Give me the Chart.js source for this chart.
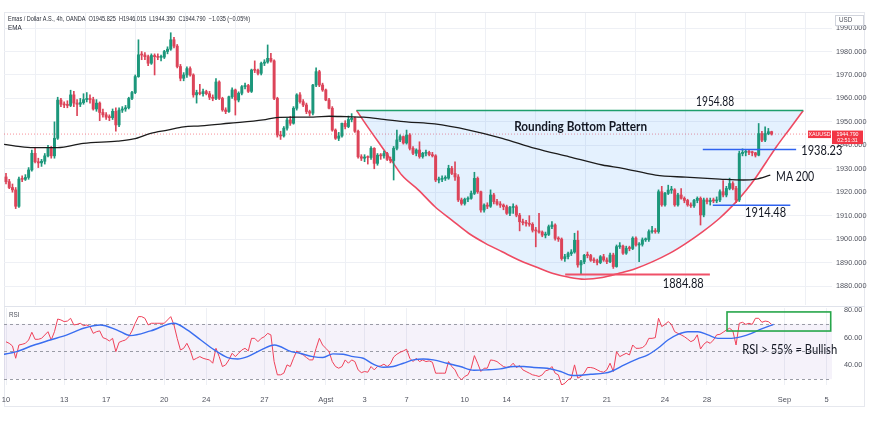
<!DOCTYPE html>
<html><head><meta charset="utf-8">
<script src="https://cdn.jsdelivr.net/npm/chart.js@4.4.0/dist/chart.umd.min.js"></script>
<style>
html,body{margin:0;padding:0;background:#fff;}
#wrap{position:relative;width:870px;height:423px;overflow:hidden;background:#fff;}
canvas{position:absolute;left:0;}
#frame{position:absolute;left:4px;top:12px;width:861px;height:395px;border:1px solid #e6e8ee;box-sizing:border-box;}
#sep{position:absolute;left:4px;top:306px;width:861px;height:1px;background:#e0e3eb;}
</style></head>
<body><div id="wrap">
<div id="frame"></div><div id="sep"></div>
<canvas id="price" width="870" height="307" style="top:0"></canvas>
<canvas id="rsi" width="870" height="106" style="top:306px"></canvas>
</div>
<script>
// ---------------- DATA ----------------
const dateTickIdx = [0,18,31,49,62,80,99,111,124,142,155,173,186,204,217,241,254];
const dateTickLabels = ['10','13','17','20','24','27','Agst','3','7','10','14','17','21','24','28','Sep','5'];
const priceTicks = [1880,1890,1900,1910,1920,1930,1940,1950,1960,1970,1980,1990];
const rsiTicks = [40,60,80];

const opens = [
1926.5,1924.5,1922.0,1921.0,1914.0,1925.6,1925.5,1926.3,1929.5,1936.6,
1933.0,1932.5,1933.2,1935.5,1938.8,1935.5,1943.0,1959.3,1957.5,1957.2,
1957.0,1961.5,1958.0,1957.5,1958.2,1959.5,1960.0,1959.5,1955.5,1958.0,
1954.0,1953.0,1952.0,1951.8,1954.5,1948.7,1955.0,1955.5,1956.0,1960.0,
1962.5,1969.3,1978.6,1978.5,1977.8,1975.0,1978.3,1977.8,1977.5,1977.6,
1980.0,1981.0,1985.0,1982.3,1973.6,1968.6,1970.0,1972.7,1970.0,1961.5,
1962.5,1962.0,1962.9,1962.0,1960.5,1960.0,1967.0,1960.0,1955.1,1954.4,
1960.7,1963.6,1959.3,1962.2,1965.0,1965.5,1963.0,1972.1,1972.0,1970.7,
1975.0,1975.5,1977.1,1976.0,1960.0,1944.4,1944.0,1947.3,1950.8,1949.4,
1955.8,1961.5,1958.6,1957.2,1954.4,1953.7,1965.7,1971.4,1965.7,1963.6,
1959.3,1955.8,1946.5,1943.0,1944.0,1949.4,1948.0,1951.0,1951.5,1946.0,
1935.1,1934.5,1935.0,1934.8,1938.7,1932.3,1935.8,1935.5,1936.5,1934.0,
1933.5,1938.7,1942.3,1943.7,1941.0,1944.4,1938.7,1936.6,1938.0,1935.2,
1936.6,1937.0,1936.0,1935.5,1925.2,1925.5,1925.9,1926.0,1930.2,1928.0,
1926.5,1916.7,1915.2,1917.0,1917.4,1919.5,1925.9,1920.2,1912.4,1914.5,
1914.0,1918.8,1916.0,1915.0,1914.5,1913.8,1911.0,1913.5,1913.8,1910.2,
1907.4,1907.0,1906.7,1906.3,1903.8,1903.5,1903.0,1901.7,1902.0,1905.3,
1906.0,1900.3,1900.0,1891.7,1892.5,1893.8,1894.5,1899.5,1889.0,1890.3,
1893.1,1893.0,1891.0,1890.8,1890.0,1892.5,1891.1,1890.4,1893.2,1888.3,
1896.8,1897.0,1894.0,1896.1,1896.0,1900.4,1897.5,1897.8,1899.7,1899.8,
1903.2,1903.5,1903.2,1920.2,1914.6,1919.5,1920.9,1921.0,1914.6,1918.8,
1917.4,1916.5,1914.6,1914.2,1916.5,1917.4,1910.3,1916.7,1916.0,1916.5,
1916.3,1916.7,1920.2,1918.8,1921.6,1923.7,1921.6,1916.7,1936.5,1937.0,
1937.2,1937.0,1936.8,1935.8,1945.0,1942.2,1945.0,1945.825];

const highs = [
1928.0,1925.5,1923.5,1922.0,1926.5,1927.0,1927.5,1930.5,1938.0,1939.0,
1934.5,1934.0,1936.5,1940.0,1939.5,1950.0,1960.5,1960.0,1958.5,1959.0,
1963.5,1963.0,1959.5,1960.0,1962.0,1962.5,1961.5,1960.5,1959.5,1958.5,
1955.5,1954.0,1953.0,1955.5,1956.0,1956.0,1956.5,1957.0,1960.5,1963.0,
1970.0,1985.0,1980.0,1979.5,1978.5,1979.0,1979.0,1979.0,1978.5,1980.5,
1982.0,1988.0,1986.0,1983.0,1974.5,1971.0,1973.5,1973.5,1970.5,1963.5,
1966.0,1964.0,1963.5,1963.0,1961.5,1968.5,1967.5,1960.5,1956.0,1961.0,
1964.5,1964.0,1962.8,1965.5,1966.5,1966.0,1972.5,1976.0,1972.5,1975.5,
1976.5,1982.8,1979.2,1976.5,1960.5,1946.0,1948.0,1951.5,1952.3,1956.5,
1962.0,1962.5,1959.5,1958.0,1955.0,1966.0,1973.0,1972.0,1966.5,1964.0,
1960.0,1956.5,1947.0,1945.5,1949.5,1950.5,1952.5,1953.5,1952.0,1946.5,
1936.0,1936.0,1935.5,1939.5,1939.0,1936.5,1936.5,1937.5,1937.0,1935.0,
1939.5,1946.5,1944.5,1944.0,1946.5,1945.0,1939.5,1938.5,1941.5,1937.0,
1938.0,1937.5,1937.0,1936.0,1926.5,1927.0,1927.0,1931.5,1931.0,1933.0,
1927.5,1917.5,1917.5,1918.0,1920.5,1928.5,1926.5,1920.5,1915.0,1915.5,
1921.0,1919.5,1917.0,1916.0,1915.0,1914.5,1914.0,1915.0,1914.5,1911.0,
1908.5,1908.0,1910.0,1907.0,1905.0,1911.0,1903.5,1903.0,1906.0,1907.5,
1906.5,1901.0,1900.5,1893.5,1894.5,1895.5,1902.5,1903.5,1891.0,1893.5,
1894.5,1893.5,1892.0,1891.5,1893.0,1893.5,1892.0,1894.0,1894.0,1897.5,
1898.5,1897.5,1897.0,1897.0,1901.0,1901.0,1898.5,1900.5,1900.5,1904.0,
1905.5,1904.5,1921.0,1922.5,1920.0,1923.0,1922.5,1921.5,1919.5,1921.5,
1918.0,1917.0,1915.5,1917.0,1918.0,1918.0,1917.5,1917.5,1917.5,1917.5,
1918.0,1921.0,1925.0,1922.5,1926.0,1924.5,1922.5,1937.5,1938.5,1938.0,
1938.0,1937.5,1937.0,1949.3,1946.0,1947.9,1947.2,1946.015];

const lows = [
1923.5,1921.5,1920.0,1913.0,1913.5,1924.5,1925.0,1925.5,1929.0,1932.5,
1930.5,1931.0,1932.0,1935.0,1934.5,1934.5,1942.5,1956.5,1956.0,1956.0,
1956.5,1956.5,1952.6,1956.5,1957.5,1958.5,1958.0,1955.0,1954.5,1950.5,
1952.0,1951.0,1950.5,1951.0,1946.0,1948.0,1954.0,1954.5,1955.5,1959.5,
1962.0,1969.0,1976.5,1976.5,1974.0,1974.5,1970.0,1976.5,1976.0,1977.0,
1979.0,1980.5,1981.5,1973.0,1967.5,1967.5,1969.0,1969.5,1960.5,1958.0,
1961.5,1961.0,1961.5,1959.5,1959.0,1959.5,1959.5,1954.5,1953.5,1954.0,
1960.0,1952.9,1958.5,1961.5,1964.0,1962.5,1962.5,1971.0,1970.0,1970.0,
1974.0,1975.0,1975.5,1959.5,1943.5,1942.5,1943.5,1946.5,1948.5,1949.0,
1955.0,1958.0,1956.5,1953.5,1952.5,1953.0,1965.0,1965.0,1963.0,1959.0,
1955.5,1946.0,1942.5,1942.0,1943.5,1947.0,1947.5,1950.0,1945.5,1934.5,
1933.5,1933.0,1932.0,1934.0,1930.0,1931.5,1934.0,1934.5,1933.5,1932.5,
1925.2,1938.0,1941.5,1940.5,1940.5,1938.0,1936.0,1935.5,1934.5,1934.5,
1935.5,1935.5,1935.0,1924.5,1924.0,1924.5,1925.0,1925.5,1927.5,1925.0,
1916.0,1914.5,1914.5,1916.0,1917.0,1919.0,1919.5,1911.5,1911.5,1913.0,
1913.5,1915.0,1914.5,1913.5,1912.5,1910.5,1910.0,1911.0,1909.5,1903.5,
1906.0,1905.5,1905.5,1903.0,1896.7,1902.5,1901.0,1900.5,1901.5,1904.5,
1899.5,1899.0,1891.0,1890.5,1891.5,1893.0,1894.0,1888.0,1884.9,1889.5,
1892.0,1890.5,1890.0,1889.0,1889.5,1890.5,1889.5,1890.0,1887.5,1888.0,
1896.0,1893.5,1893.5,1895.0,1895.5,1897.0,1890.4,1897.0,1899.0,1899.0,
1902.5,1902.5,1902.5,1914.0,1914.0,1919.0,1919.5,1914.0,1914.0,1917.0,
1915.5,1914.0,1913.5,1913.5,1915.5,1906.0,1909.5,1915.0,1914.5,1915.5,
1915.5,1916.0,1918.0,1918.0,1921.0,1921.0,1915.5,1916.0,1935.5,1935.5,
1936.0,1935.5,1935.0,1935.5,1941.5,1941.5,1944.5,1944.35];

const closes = [
1924.5,1922.0,1921.0,1914.0,1925.6,1925.5,1926.3,1929.5,1936.6,1933.0,
1932.5,1933.2,1935.5,1938.8,1935.5,1943.0,1959.3,1957.5,1957.2,1957.0,
1961.5,1958.0,1957.5,1958.2,1959.5,1960.0,1959.5,1955.5,1958.0,1954.0,
1953.0,1952.0,1951.8,1954.5,1948.7,1955.0,1955.5,1956.0,1960.0,1962.5,
1969.3,1978.6,1978.5,1977.8,1975.0,1978.3,1977.8,1977.5,1977.6,1980.0,
1981.0,1985.0,1982.3,1973.6,1968.6,1970.0,1972.7,1970.0,1961.5,1962.5,
1962.0,1962.9,1962.0,1960.5,1960.0,1967.0,1960.0,1955.1,1954.4,1960.7,
1963.6,1959.3,1962.2,1965.0,1965.5,1963.0,1972.1,1972.0,1970.7,1975.0,
1975.5,1977.1,1976.0,1960.0,1944.4,1944.0,1947.3,1950.8,1949.4,1955.8,
1961.5,1958.6,1957.2,1954.4,1953.7,1965.7,1971.4,1965.7,1963.6,1959.3,
1955.8,1946.5,1943.0,1944.0,1949.4,1948.0,1951.0,1951.5,1946.0,1935.1,
1934.5,1935.0,1934.8,1938.7,1932.3,1935.8,1935.5,1936.5,1934.0,1933.5,
1938.7,1942.3,1943.7,1941.0,1944.4,1938.7,1936.6,1938.0,1935.2,1936.6,
1937.0,1936.0,1935.5,1925.2,1925.5,1925.9,1926.0,1930.2,1928.0,1926.5,
1916.7,1915.2,1917.0,1917.4,1919.5,1925.9,1920.2,1912.4,1914.5,1914.0,
1918.8,1916.0,1915.0,1914.5,1913.8,1911.0,1913.5,1913.8,1910.2,1907.4,
1907.0,1906.7,1906.3,1903.8,1903.5,1903.0,1901.7,1902.0,1905.3,1906.0,
1900.3,1900.0,1891.7,1892.5,1893.8,1894.5,1899.5,1889.0,1890.3,1893.1,
1893.0,1891.0,1890.8,1890.0,1892.5,1891.1,1890.4,1893.2,1888.3,1896.8,
1897.0,1894.0,1896.1,1896.0,1900.4,1897.5,1897.8,1899.7,1899.8,1903.2,
1903.5,1903.2,1920.2,1914.6,1919.5,1920.9,1921.0,1914.6,1918.8,1917.4,
1916.5,1914.6,1914.2,1916.5,1917.4,1910.3,1916.7,1916.0,1916.5,1916.3,
1916.7,1920.2,1918.8,1921.6,1923.7,1921.6,1916.7,1936.5,1937.0,1937.2,
1937.0,1936.8,1935.8,1945.0,1942.2,1945.0,1945.8,1944.79];

// EMA 200 as [bar index, price]
const ema200 = [[-0.6,1940.4],[4.4,1939.4],[8.4,1939.0],[15.9,1939.0],[23.9,1940.8],[34.5,1941.8],[39.5,1942.7],
[44.8,1945.1],[50,1946.5],[55,1947.9],[60.3,1948.3],[69,1949.4],[79.6,1950.8],[83.6,1951.8],[89.8,1952.0],[95.1,1952.0],
[100.1,1952.4],[105.4,1952.2],[110.7,1952.0],[116.9,1951.1],[124,1950.0],[132.7,1949.1],[143.3,1946.5],[153.6,1943.0],
[163.8,1938.7],[174.4,1935.1],[184.6,1931.6],[190.9,1930.2],[201.1,1927.3],[210.4,1926.4],[221,1925.6],[228.2,1925.2],
[232.2,1925.6],[236.6,1927.3]];

// Rounding bottom curve [bar index, price]
const roundingCurve = [[108.5,1954.88],[112.4,1947],[116.3,1939.4],[120,1932.2],[122.5,1927.3],[127.7,1920.9],[132.8,1913.8],
[138,1908.1],[143.2,1902.5],[148.4,1898.2],[153.6,1894.6],[158.7,1891.1],[163.9,1888.2],[169.1,1885.4],[174.3,1883.7],
[179,1882.9],[184.6,1883.6],[189.8,1885.4],[195,1887.5],[200.2,1890.4],[205.4,1893.9],[210.5,1898.2],[215.7,1903.2],
[220.9,1908.9],[226.1,1916],[229.2,1920.9],[232.3,1926.6],[235.4,1933],[238.5,1939.4],[242.7,1947.2],[246.8,1954.88]];

// Horizontal levels: [value, from bar, to bar]
const levelTop = [1954.88, 108.5, 246.8];
const levelHigh = [1938.23, 215.7, 244.6];
const levelMid = [1914.48, 218.8, 242.8];
const levelLow = [1884.88, 173.1, 217.9];
const lastPrice = 1944.79;

const rsiValues = [
57.0,55.9,54.0,45.1,54.7,55.2,55.9,58.3,63.9,58.8,
58.8,59.5,61.9,64.3,58.3,64.3,73.5,72.8,71.6,72.0,
74.0,69.2,69.6,70.4,68.7,69.2,68.0,63.1,64.3,64.9,
60.0,59.1,57.6,59.5,49.9,56.6,57.6,58.3,60.7,64.9,
70.4,75.2,75.2,74.0,69.2,70.4,70.4,70.4,70.4,70.4,
72.8,75.2,69.2,59.5,51.1,52.3,55.9,51.1,43.9,45.1,
46.3,45.1,44.4,43.9,41.5,52.3,46.3,39.1,40.3,43.9,
48.7,46.3,48.7,51.1,52.3,50.4,59.5,59.5,57.1,59.5,
60.7,63.1,62.0,42.7,33.1,33.1,34.3,40.3,39.1,45.1,
50.4,48.7,47.5,45.6,43.9,43.9,52.3,59.5,54.7,52.3,
49.9,42.7,39.1,37.9,39.1,43.9,41.5,43.9,42.7,36.7,
34.7,35.5,35.0,39.1,36.7,39.1,39.6,40.8,39.1,41.0,
46.0,48.0,49.4,50.4,51.6,45.1,42.7,45.1,42.7,43.9,
42.7,43.2,42.2,34.3,34.3,34.3,34.3,42.7,39.1,36.7,
31.9,29.5,31.9,33.1,37.9,47.0,41.5,35.5,37.9,37.9,
43.9,43.5,42.7,40.8,39.1,38.4,39.1,41.5,38.4,39.8,
36.7,35.5,34.3,33.1,32.6,31.9,33.1,36.0,36.7,39.1,
34.3,33.1,25.8,27.0,29.5,30.7,40.3,30.7,32.0,34.3,
38.4,38.4,37.9,36.7,35.5,35.0,36.7,41.5,35.5,49.9,
46.3,47.5,48.7,47.5,54.7,52.3,52.3,52.8,54.7,59.5,
59.5,60.0,74.0,68.0,69.6,71.6,69.6,64.3,63.1,62.0,
60.7,59.0,57.1,58.3,62.0,51.8,55.2,57.1,55.9,58.3,
62.0,62.4,63.9,65.5,66.8,64.9,54.7,70.4,71.1,69.6,
70.4,69.6,74.0,74.0,71.1,72.0,71.6,69.6];

const rsiMa = [[-1.9,47.5],[3.3,49.9],[8.5,54.5],[13.7,58.3],[18.9,62.0],[24,66.8],[29.2,69.2],[34.4,65.5],[38.5,61.5],
[44.8,64.9],[52,70.4],[56.2,65.5],[60.3,58.3],[64.5,51.1],[68.6,45.6],[71.7,44.6],[74.8,46.3],[79,51.1],[83.1,54.7],
[88.3,49.9],[90.9,48.7],[95,46.3],[98.1,45.6],[101.2,48.3],[104.4,48.0],[107.5,46.3],[110.6,45.1],[113.7,40.8],
[116.8,38.6],[119.9,39.1],[123,41.5],[126.1,43.9],[129.2,44.6],[132.3,43.9],[136.5,41.5],[140.6,39.1],[144.8,36.4],
[148.9,36.7],[153,37.4],[157.2,39.1],[160.3,39.1],[163.4,38.4],[167.5,37.9],[171.7,35.5],[174.8,32.8],[176.9,32.6],
[181,33.5],[185.2,34.3],[187.3,35.5],[191.4,40.3],[195.5,44.6],[198.7,47.5],[201.8,52.3],[204.9,58.3],[208,62.4],
[211.1,64.3],[214.2,64.3],[217.3,62.0],[220.4,59.5],[224.6,59.5],[227.7,60.7],[230.8,63.1],[233.9,66.3],[237.6,69.6]];

// ---------------- CHART ----------------
Chart.defaults.font.family = "'Liberation Sans', Arial, sans-serif";
const X_MIN = -0.62, X_MAX = 255.7;
const UP = '#1c977b', DOWN = '#dc4459';
const candleColor = i => closes[i] >= opens[i] ? UP : DOWN;
const bars = closes.map((_, i) => i);
const pts = arr => arr.map(p => ({x: p[0], y: p[1]}));
const level = l => [{x: l[1], y: l[0]}, {x: l[2], y: l[0]}];
const GRID = '#eef0f5';
const TXT = '#131722';
const ANNO_FONT = "Lato, 'Open Sans', sans-serif";

function fixAxis(w, h) {
  return s => {
    if (w !== null) s.width = w;
    if (h !== null) s.height = h;
    s.paddingTop = 0; s.paddingBottom = 0; s.paddingLeft = 0; s.paddingRight = 0;
  };
}

const priceAnnotations = [
  {text: '1954.88', x: 219.5, y: 1958.5, align: 'center', font: '12.5px ' + ANNO_FONT, w: 38},
  {text: 'Rounding Bottom Pattern', x: 157.3, y: 1947.8, align: 'left', font: 'bold 12.5px ' + ANNO_FONT, w: 133},
  {text: '1938.23', x: 246.2, y: 1937.6, align: 'left', font: '13px ' + ANNO_FONT, w: 41},
  {text: 'MA 200', x: 238.4, y: 1926.5, align: 'left', font: '13px ' + ANNO_FONT, w: 38},
  {text: '1914.48', x: 228.8, y: 1911.1, align: 'left', font: '13px ' + ANNO_FONT, w: 41},
  {text: '1884.88', x: 203.3, y: 1880.9, align: 'left', font: '13px ' + ANNO_FONT, w: 41}
];

const pricePlugin = {
  id: 'priceExtras',
  afterDatasetsDraw(chart) {
    const {ctx, scales: {x, y}} = chart;
    ctx.save();
    ctx.fillStyle = TXT;
    ctx.textBaseline = 'middle';
    priceAnnotations.forEach(a => {
      ctx.font = a.font; ctx.textAlign = a.align;
      ctx.fillText(a.text, x.getPixelForValue(a.x), y.getPixelForValue(a.y), a.w);
    });
    ctx.restore();
  },
  afterDraw(chart) {
    const {ctx, scales: {y}, chartArea} = chart;
    ctx.save();
    // legend
    ctx.textBaseline = 'middle'; ctx.textAlign = 'left';
    ctx.font = "6.3px 'Liberation Sans', Arial, sans-serif";
    ctx.fillStyle = '#2a2e39';
    ctx.fillText('Emas / Dollar A.S., 4h, OANDA  O1945.825  H1946.015  L1944.350  C1944.790  \u22121.035 (\u22120.05%)', chartArea.left + 4, 19.5, 242);
    ctx.fillText('EMA', chartArea.left + 4, 28);
    // USD box
    const ax = chartArea.right + 3;
    ctx.fillStyle = '#fff';
    ctx.fillRect(ax, 15, 28, 11);
    ctx.strokeStyle = '#d1d4dc'; ctx.lineWidth = 1;
    ctx.strokeRect(ax + 0.5, 15.5, 28, 10);
    ctx.fillStyle = '#50535e';
    ctx.font = "6.3px 'Liberation Sans', Arial, sans-serif";
    ctx.fillText('USD', ax + 4, 20.5);
    // last price tag
    const py = y.getPixelForValue(lastPrice);
    ctx.fillStyle = '#f23645';
    ctx.fillRect(chartArea.right - 24, py - 3.5, 23, 7.5);
    ctx.fillRect(chartArea.right, py - 3.5, 31, 13.5);
    ctx.fillStyle = '#fff';
    ctx.font = "5.3px 'Liberation Sans', Arial, sans-serif";
    ctx.textAlign = 'center';
    ctx.fillText('XAUUSD', chartArea.right - 12.5, py + 0.3);
    ctx.fillText('1944.790', chartArea.right + 15.5, py + 0.3);
    ctx.fillText('02:51:31', chartArea.right + 15.5, py + 6.8);
    ctx.restore();
  }
};

new Chart(document.getElementById('price'), {
  type: 'bar',
  data: {
    datasets: [
      {type: 'line', data: [{x: X_MIN, y: lastPrice}, {x: X_MAX, y: lastPrice}], borderColor: 'rgba(242,54,69,0.55)',
       borderWidth: 1, borderDash: [1, 2], pointRadius: 0, order: 10},
      {type: 'line', data: pts(roundingCurve), borderColor: '#ee4a62', borderWidth: 1.6, pointRadius: 0,
       cubicInterpolationMode: 'monotone', fill: {value: levelTop[0]}, backgroundColor: 'rgba(33,140,243,0.12)', order: 9},
      {data: bars.map(i => ({x: i, y: [lows[i], highs[i]]})), backgroundColor: c => candleColor(c.dataIndex),
       barThickness: 1, grouped: false, borderWidth: 0, order: 4},
      {data: bars.map(i => ({x: i, y: [opens[i], closes[i]]})), backgroundColor: c => candleColor(c.dataIndex),
       barThickness: 2.3, minBarLength: 1, grouped: false, borderWidth: 0, order: 3},
      {type: 'line', data: pts(ema200), borderColor: '#1c1c1c', borderWidth: 1.3, pointRadius: 0,
       cubicInterpolationMode: 'monotone', order: 2},
      {type: 'line', data: level(levelTop), borderColor: '#1d9e6c', borderWidth: 1.5, pointRadius: 0, order: 1},
      {type: 'line', data: level(levelHigh), borderColor: '#2f63f0', borderWidth: 1.5, pointRadius: 0, order: 1},
      {type: 'line', data: level(levelMid), borderColor: '#2f63f0', borderWidth: 1.5, pointRadius: 0, order: 1},
      {type: 'line', data: level(levelLow), borderColor: '#f05068', borderWidth: 2, pointRadius: 0, order: 1}
    ]
  },
  options: {
    responsive: false, animation: false, events: [],
    layout: {padding: {left: 4, top: 13, right: 0, bottom: 0}},
    plugins: {legend: {display: false}, tooltip: {enabled: false}},
    scales: {
      x: {type: 'linear', min: X_MIN, max: X_MAX, offset: false,
          afterBuildTicks: s => { s.ticks = dateTickIdx.map(v => ({value: v})); },
          afterFit: fixAxis(null, 2),
          ticks: {display: false}, grid: {color: GRID, drawTicks: false}, border: {display: false}},
      y: {position: 'right', min: 1871.9, max: 1996.42,
          afterBuildTicks: s => { s.ticks = priceTicks.map(v => ({value: v})); },
          afterFit: fixAxis(38, null),
          ticks: {callback: v => v.toFixed(3), color: '#50535e', font: {size: 7.3}, padding: 4},
          grid: {color: GRID, drawTicks: false}, border: {display: false}}
    }
  },
  plugins: [pricePlugin]
});

const rsiPlugin = {
  id: 'rsiExtras',
  beforeDatasetsDraw(chart) {
    const {ctx, scales: {x, y}, chartArea} = chart;
    ctx.save();
    const y70 = y.getPixelForValue(70), y30 = y.getPixelForValue(30), y50 = y.getPixelForValue(50);
    ctx.fillStyle = 'rgba(126,87,194,0.08)';
    ctx.fillRect(chartArea.left, y70, chartArea.right - chartArea.left, y30 - y70);
    ctx.strokeStyle = '#9a9ca6'; ctx.lineWidth = 1; ctx.setLineDash([3, 3]);
    [y70, y50, y30].forEach(v => {
      ctx.beginPath(); ctx.moveTo(chartArea.left, Math.round(v) + 0.5); ctx.lineTo(chartArea.right, Math.round(v) + 0.5); ctx.stroke();
    });
    ctx.restore();
  },
  afterDatasetsDraw(chart) {
    const {ctx, scales: {x, y}, chartArea} = chart;
    ctx.save();
    const x1 = x.getPixelForValue(223.2), x2 = x.getPixelForValue(255.3);
    const y1 = y.getPixelForValue(78.6), y2 = y.getPixelForValue(64.8);
    ctx.strokeStyle = '#27a64a'; ctx.lineWidth = 1.6;
    ctx.strokeRect(x1, y1, x2 - x1, y2 - y1);
    ctx.fillStyle = TXT; ctx.textBaseline = 'middle'; ctx.textAlign = 'left';
    ctx.font = '13.5px ' + ANNO_FONT;
    ctx.fillText('RSI > 55% = Bullish', x.getPixelForValue(227.9), y.getPixelForValue(51.1), 95);
    ctx.fillStyle = '#50535e';
    ctx.font = "6.3px 'Liberation Sans', Arial, sans-serif";
    ctx.fillText('RSI', chartArea.left + 5, chartArea.top + 7);
    ctx.restore();
  }
};

new Chart(document.getElementById('rsi'), {
  type: 'line',
  data: {
    datasets: [
      {data: bars.map(i => ({x: i, y: rsiValues[i]})), borderColor: '#ef4159', borderWidth: 1, pointRadius: 0, order: 2},
      {data: pts(rsiMa), borderColor: '#3a6ef0', borderWidth: 1.4, pointRadius: 0, cubicInterpolationMode: 'monotone', order: 1}
    ]
  },
  options: {
    responsive: false, animation: false, events: [],
    layout: {padding: {left: 4, top: 2, right: 0, bottom: 0}},
    plugins: {legend: {display: false}, tooltip: {enabled: false}},
    scales: {
      x: {type: 'linear', min: X_MIN, max: X_MAX, offset: false,
          afterBuildTicks: s => { s.ticks = dateTickIdx.map(v => ({value: v})); },
          afterFit: fixAxis(null, 27),
          ticks: {autoSkip: false, maxRotation: 0, callback: (v, i) => dateTickLabels[i], color: '#50535e',
                  font: {size: 7.5}, padding: 10},
          grid: {color: GRID, drawTicks: false}, border: {display: false}},
      y: {position: 'right', min: 25.75, max: 81.45,
          afterBuildTicks: s => { s.ticks = rsiTicks.map(v => ({value: v})); },
          afterFit: fixAxis(38, null),
          ticks: {callback: v => v.toFixed(2), color: '#50535e', font: {size: 7.3}, padding: 4},
          grid: {display: false}, border: {display: false}}
    }
  },
  plugins: [rsiPlugin]
});
</script>
</body></html>
